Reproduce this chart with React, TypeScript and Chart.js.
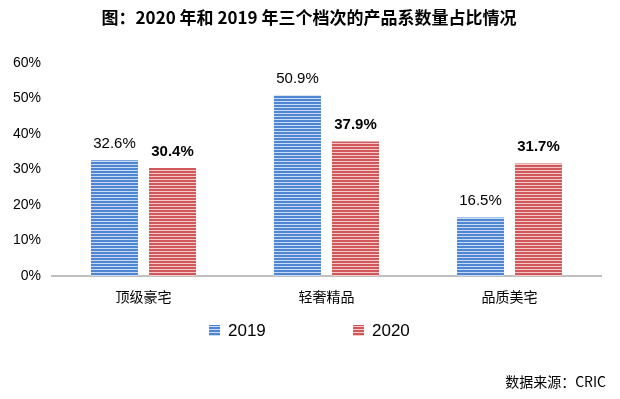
import { useEffect, useRef } from "react";
import { Chart, registerables } from "chart.js";
Chart.register(...registerables);

const categories = ["顶级豪宅", "轻奢精品", "品质美宅"];
const series2019 = [32.6, 50.9, 16.5];
const series2020 = [30.4, 37.9, 31.7];
const seriesNames = ["2019", "2020"];
const yMax = 60;
const yStep = 10;
const titleText = "图：2020 年和 2019 年三个档次的产品系数量占比情况";
const sourceText = "数据来源：CRIC";

const BLUE = "#4f86d2";
const BLUE_LIGHT = "#c9dbf2";
const RED = "#d0585a";
const RED_LIGHT = "#f3c9c9";

function makePattern(ctx: CanvasRenderingContext2D, main: string, light: string) {
  const c = document.createElement("canvas");
  c.width = 4;
  c.height = 3;
  const g = c.getContext("2d")!;
  g.fillStyle = light;
  g.fillRect(0, 0, 4, 3);
  g.fillStyle = main;
  g.fillRect(0, 0, 4, 2);
  return ctx.createPattern(c, "repeat")!;
}

export default function App() {
  const ref = useRef<HTMLCanvasElement | null>(null);
  useEffect(() => {
    const canvas = ref.current!;
    const ctx0 = canvas.getContext("2d")!;
    const pBlue = makePattern(ctx0, BLUE, BLUE_LIGHT);
    const pRed = makePattern(ctx0, RED, RED_LIGHT);
    const values = [series2019, series2020];
    const patterns = [pBlue, pRed];

    const overlay = {
      id: "overlay",
      afterDatasetsDraw(chart: any) {
        const ctx = chart.ctx;
        ctx.save();
        ctx.fillStyle = "#000";
        ctx.textAlign = "center";
        ctx.textBaseline = "alphabetic";
        for (let i = 0; i < 2; i++) {
          const meta = chart.getDatasetMeta(i);
          ctx.font = (i === 1 ? "bold " : "") + '15px "Liberation Sans", Arial, sans-serif';
          meta.data.forEach((bar: any, j: number) => {
            ctx.fillText(values[i][j].toFixed(1) + "%", bar.x, bar.y - 12);
          });
        }
        ctx.restore();
      },
      afterDraw(chart: any) {
        const ctx = chart.ctx;
        ctx.save();
        ctx.fillStyle = "#000";
        ctx.font = 'bold 17px "Noto Sans CJK SC", sans-serif';
        ctx.textAlign = "center";
        ctx.textBaseline = "middle";
        ctx.fillText(titleText, 309, 18);
        const items = [
          { x: 209, p: pBlue, t: seriesNames[0] },
          { x: 353, p: pRed, t: seriesNames[1] },
        ];
        ctx.font = '17px "Liberation Sans", Arial, sans-serif';
        ctx.textAlign = "left";
        for (const it of items) {
          ctx.fillStyle = it.p;
          ctx.fillRect(it.x, 325, 11, 11);
          ctx.fillStyle = "#000";
          ctx.fillText(it.t, it.x + 19, 331);
        }
        ctx.font = '14px "Noto Sans CJK SC", sans-serif';
        ctx.textAlign = "right";
        ctx.fillText(sourceText, 606, 382);
        ctx.restore();
      },
    };

    const chart = new Chart(canvas, {
      type: "bar",
      data: {
        labels: categories,
        datasets: [0, 1].map((i) => ({
          label: seriesNames[i],
          data: values[i],
          backgroundColor: patterns[i] as any,
          borderWidth: 0,
          categoryPercentage: 0.634,
          barPercentage: 0.81,
        })),
      },
      options: {
        responsive: false,
        animation: false,
        layout: { padding: { top: 63, right: 19, left: 0, bottom: 0 } },
        plugins: {
          legend: { display: false },
          title: { display: false },
          tooltip: { enabled: false },
        },
        scales: {
          x: {
            grid: { display: false, drawTicks: false },
            border: { display: true, color: "#bfbfbf", width: 2 },
            ticks: {
              color: "#000",
              padding: 12,
              font: { family: '"Noto Sans CJK SC", sans-serif', size: 14 },
            },
            afterFit(scale: any) {
              scale.height = 123;
            },
          },
          y: {
            min: 0,
            max: yMax,
            grid: { display: false, drawTicks: false },
            border: { display: false },
            ticks: {
              stepSize: yStep,
              color: "#000",
              padding: 11,
              font: { family: '"Liberation Sans", Arial, sans-serif', size: 14 },
              callback: (v: any) => v + "%",
            },
            afterFit(scale: any) {
              scale.width = 52;
            },
          },
        },
      },
      plugins: [overlay],
    });
    return () => chart.destroy();
  }, []);
  return (
    <div style={{ position: "absolute", left: 0, top: 0, width: 620, height: 399, background: "#fff" }}>
      <canvas ref={ref} width={620} height={399} />
    </div>
  );
}
